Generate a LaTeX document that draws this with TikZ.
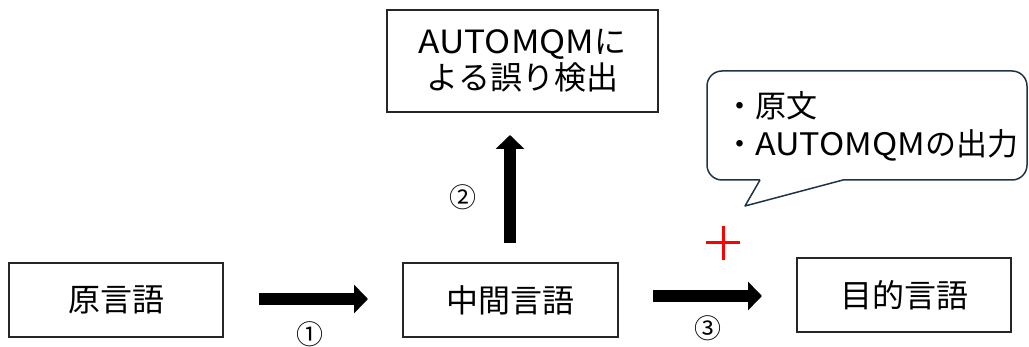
\documentclass[tikz,border=0pt]{standalone}
\usepackage{fontspec}
\setmainfont{Noto Sans CJK JP}
\newfontfamily\latwide[FakeStretch=1.1]{Noto Sans CJK JP}
\usetikzlibrary{arrows.meta}
\definecolor{callcol}{HTML}{1F3347}
\newcommand{\aqm}{{\latwide AUTOMQM}}
\begin{document}
\begin{tikzpicture}[x=1pt,y=-1pt,
  box/.style={draw=black!85, line width=1.5pt, fill=white, inner sep=0pt,
    font=\fontsize{32}{36}\selectfont, align=center},
  blockarrow/.style={line width=12pt, draw=black, -{Triangle[length=14pt,width=28pt]}},
  num/.style={font=\fontsize{27}{30}\selectfont, inner sep=0pt},
  callout/.style={draw=callcol, line width=1.5pt, line join=round},
  calltext/.style={font=\fontsize{31}{38}\selectfont, align=left, inner sep=0pt, anchor=west}
]
\useasboundingbox (0,0) rectangle (1029,347);

\node[box, minimum width=214pt, minimum height=74pt] (src) at (116,300) {原言語};
\node[box, minimum width=215pt, minimum height=74pt] (mid) at (510.5,300) {中間言語};
\node[box, minimum width=214pt, minimum height=74pt] (tgt) at (904,295) {目的言語};
\node[box, minimum width=271pt, minimum height=102pt] (auto) at (522.5,61) {\aqm に\\よる誤り検出};

% block arrows
\coordinate (a1s) at (259,299);
\coordinate (a1e) at (368,299);
\draw[blockarrow] (a1s) -- (a1e);
\node[num] (n1) at (310,334) {①};

\coordinate (a2s) at (510,243);
\coordinate (a2e) at (510,135);
\draw[blockarrow] (a2s) -- (a2e);
\node[num] (n2) at (463,197) {②};

\coordinate (a3s) at (653,296);
\coordinate (a3e) at (762,296);
\draw[blockarrow] (a3s) -- (a3e);
\node[num] (n3) at (708,328) {③};

% red plus
\node[inner sep=0pt, minimum size=33pt] (plus) at (723,243) {};
\draw[red, line width=3pt] (plus.west) -- (plus.east) (plus.north) -- (plus.south);

% callout
\draw[callout] (760,180) -- (745,206) -- (843,180)
  [rounded corners=15pt] -- (1027,180) -- (1027,71) -- (707,71) -- (707,180) -- (760,180);
\node[calltext] (ctext) at (724,126) {・原文\\・\aqm の出力};
\end{tikzpicture}
\end{document}
